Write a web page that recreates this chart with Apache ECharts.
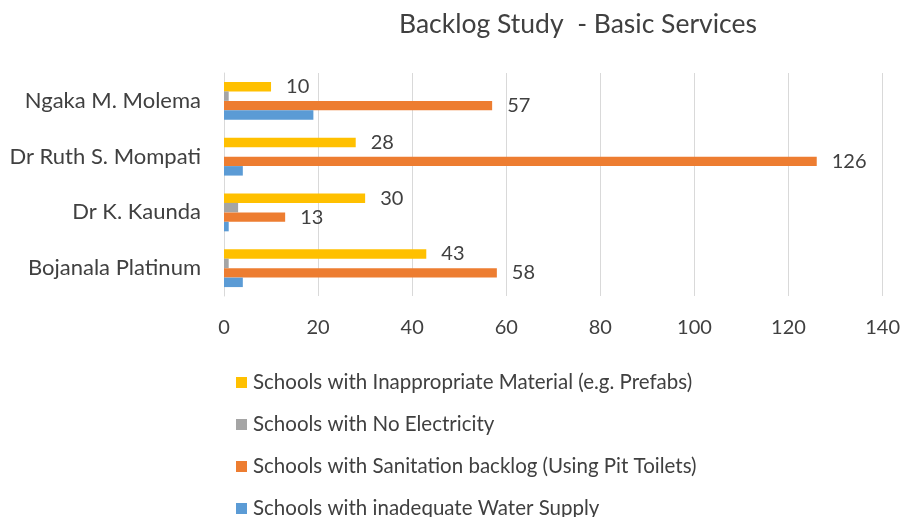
<!DOCTYPE html>
<html>
<head>
<meta charset="utf-8">
<script src="https://cdn.jsdelivr.net/npm/echarts@6/dist/echarts.min.js"></script>
<style>
  html, body { margin: 0; padding: 0; background: #fff; }
  #chart { width: 903px; height: 517px; }
</style>
</head>
<body>
<div id="chart"></div>
<script>
// District names, bottom to top as drawn on the category axis
const districts = ['Bojanala Platinum', 'Dr K. Kaunda', 'Dr Ruth S. Mompati', 'Ngaka M. Molema'];

// Number of schools per district, same order as districts
const inappropriate = [43, 30, 28, 10];
const noElectricity = [1, 3, 0, 1];
const sanitation    = [58, 13, 126, 57];
const waterSupply   = [4, 1, 4, 19];

const xTicks = { min: 0, max: 140, interval: 20 };

const FONT = 'Lato';
const TEXT = '#404040';

const labelStyle = {
  show: true,
  position: 'right',
  distance: 15,
  color: TEXT,
  fontSize: 20,
  fontFamily: FONT
};

const chart = echarts.init(document.getElementById('chart'));
chart.setOption({
  animation: false,
  textStyle: { fontFamily: FONT },
  title: {
    text: 'Backlog Study  - Basic Services',
    left: 573,
    top: 6,
    textAlign: 'center',
    textStyle: { fontSize: 26.5, fontWeight: 'normal', color: TEXT, fontFamily: FONT }
  },
  legend: {
    orient: 'vertical',
    left: 231,
    top: 367,
    height: 200,
    itemGap: 21,
    itemWidth: 11,
    itemHeight: 11,
    icon: 'rect',
    textStyle: { fontSize: 20.5, color: TEXT, fontFamily: FONT, padding: [0, 0, 0, 1] },
    data: [
      'Schools with Inappropriate Material (e.g. Prefabs)',
      'Schools with No Electricity',
      'Schools with Sanitation backlog (Using Pit Toilets)',
      'Schools with inadequate Water Supply'
    ]
  },
  grid: { left: 224, right: 18, top: 73, bottom: 221, containLabel: false },
  xAxis: {
    type: 'value',
    min: xTicks.min,
    max: xTicks.max,
    interval: xTicks.interval,
    axisLine: { show: false },
    axisTick: { show: false },
    axisLabel: { color: TEXT, fontSize: 20, fontFamily: FONT, margin: 22 },
    splitLine: { lineStyle: { color: '#d9d9d9', width: 1 } }
  },
  yAxis: {
    type: 'category',
    data: districts,
    axisLine: { lineStyle: { color: '#d9d9d9', width: 1 } },
    axisTick: { show: false },
    axisLabel: { color: TEXT, fontSize: 22, fontFamily: FONT, margin: 23 }
  },
  series: [
    {
      name: 'Schools with Inappropriate Material (e.g. Prefabs)',
      type: 'bar',
      data: inappropriate,
      barGap: '0%',
      barCategoryGap: '32%',
      itemStyle: { color: '#FFC000' },
      label: labelStyle
    },
    {
      name: 'Schools with No Electricity',
      type: 'bar',
      data: noElectricity,
      itemStyle: { color: '#A5A5A5' }
    },
    {
      name: 'Schools with Sanitation backlog (Using Pit Toilets)',
      type: 'bar',
      data: sanitation,
      itemStyle: { color: '#ED7D31' },
      label: labelStyle
    },
    {
      name: 'Schools with inadequate Water Supply',
      type: 'bar',
      data: waterSupply,
      itemStyle: { color: '#5B9BD5' }
    }
  ]
});
</script>
</body>
</html>
